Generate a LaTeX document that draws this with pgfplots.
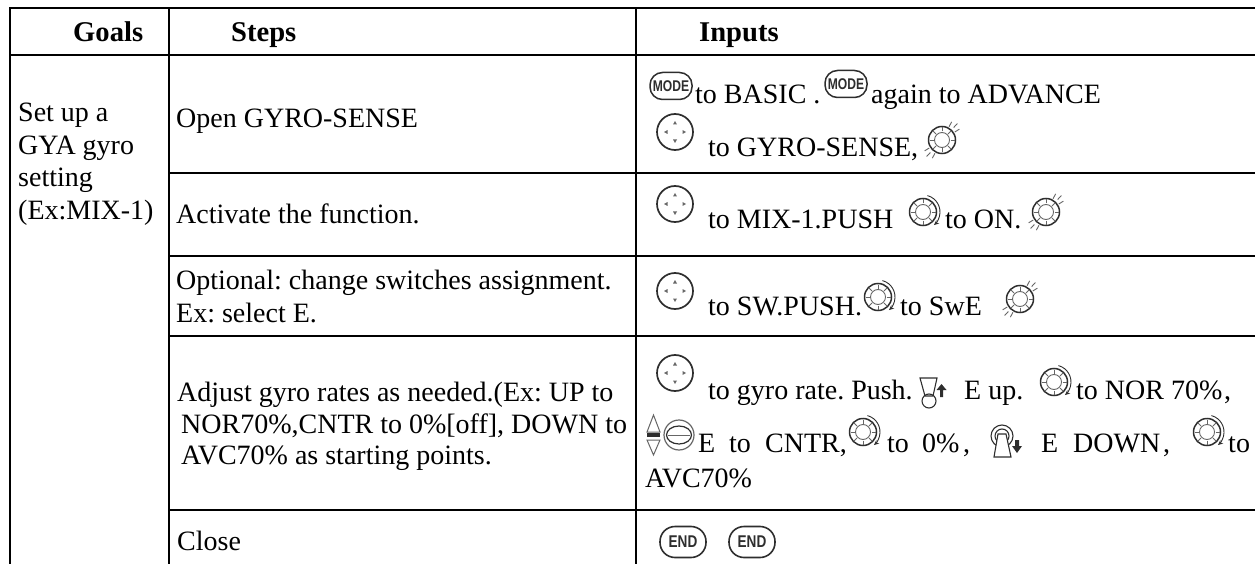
\documentclass[border=0pt]{standalone}
\usepackage{fontspec}
\setmainfont{Liberation Serif}
\newfontfamily\iconfont{Liberation Sans}
\usepackage{pgfplots}
\pgfplotsset{compat=1.18}
\usetikzlibrary{arrows.meta}
\definecolor{ic}{gray}{0.18}
\definecolor{icb}{gray}{0.4}
\tikzset{
 modepic/.pic={
  \draw[ic,line width=1.5pt,rounded corners=12.5pt] (-21pt,-13.5pt) rectangle (21pt,13.5pt);
  \node[ic,inner sep=0pt,xscale=.78] at (0pt,0pt) {\iconfont\bfseries\fontsize{15.5}{15.5}\selectfont MODE};
 },
 endpic/.pic={
  \draw[ic,line width=1.6pt,rounded corners=15pt] (-23pt,-15.5pt) rectangle (23pt,15.5pt);
  \node[ic,inner sep=0pt,xscale=.8] at (0pt,0pt) {\iconfont\bfseries\fontsize{17}{17}\selectfont END};
 },
 padpic/.pic={
  \draw[ic,line width=1.7pt] (0pt,0pt) circle[radius=18pt];
  \fill[icb] (0pt,11pt)--(-2pt,7.5pt)--(2pt,7.5pt)--cycle;
  \fill[icb] (0pt,-11pt)--(-2pt,-7.5pt)--(2pt,-7.5pt)--cycle;
  \fill[icb] (-11pt,0pt)--(-7.5pt,-2pt)--(-7.5pt,2pt)--cycle;
  \fill[icb] (11pt,0pt)--(7.5pt,-2pt)--(7.5pt,2pt)--cycle;
 },
 dialbase/.pic={
  \draw[ic,line width=1.5pt] (0pt,0pt) circle[radius=13.5pt];
  \draw[icb,line width=.9pt] (0pt,0pt) circle[radius=7.5pt];
  \foreach \a in {0,45,...,315}{\draw[icb,line width=.8pt] (\a:8.5pt)--(\a:12.5pt);}
 },
 pushpic/.pic={
  \pic {dialbase};
  \foreach \a/\b in {32/15,47/17,62/15,212/15,227/17,242/15}{\draw[icb,line width=.9pt] (\a:\b pt)--(\a:\b pt+5.5pt);}
 },
 turnpic/.pic={
  \pic {dialbase};
  \draw[ic,line width=.9pt,-{Stealth[length=5pt,width=4.5pt]}] (75:17pt) arc[start angle=75,end angle=-50,radius=17pt];
 },
 swuppic/.pic={
  \draw[ic,line width=1.1pt] (-14pt,15pt)--(3pt,15pt)--(-1pt,-3pt)--(-9pt,-3pt)--cycle;
  \draw[ic,line width=1.1pt] (-5pt,-8pt) circle[radius=7pt];
  \fill[ic] (7.5pt,9pt)--(2.5pt,3pt)--(6pt,3pt)--(6pt,-4pt)--(9pt,-4pt)--(9pt,3pt)--(12.5pt,3pt)--cycle;
 },
 swdownpic/.pic={
  \draw[ic,line width=1.1pt] (-1pt,6pt) circle[radius=11pt];
  \draw[ic,line width=1.1pt] (-1pt,6pt) circle[radius=7pt];
  \draw[ic,line width=1.1pt,fill=white] (-5pt,8pt)--(3pt,8pt)--(8pt,-15pt)--(-9pt,-15pt)--cycle;
  \fill[ic] (14pt,-11pt)--(9pt,-4pt)--(12pt,-4pt)--(12pt,2pt)--(16pt,2pt)--(16pt,-4pt)--(19pt,-4pt)--cycle;
 },
 swmidpic/.pic={
  \draw[icb,line width=1pt] (-32pt,3pt)--(-25.5pt,20pt)--(-19pt,3pt)--cycle;
  \draw[icb,line width=1pt] (-32pt,-5pt)--(-25.5pt,-20pt)--(-19pt,-5pt)--cycle;
  \fill[ic] (-32pt,-2pt) rectangle (-19pt,2pt);
  \draw[icb,line width=1.2pt] (0pt,0pt) circle[radius=15pt];
  \draw[ic,line width=1.2pt] (0pt,0pt) ellipse[x radius=12.5pt,y radius=9pt];
  \draw[icb,line width=.8pt] (-11pt,0pt)--(11pt,0pt);
 }
}
\newcommand\T[3]{\node[anchor=base west,inner sep=0pt,font=\frenchspacing\fontsize{28}{30}\selectfont] at (axis cs:#1,#2) {#3};}
\newcommand\B[3]{\node[anchor=base west,inner sep=0pt,font=\frenchspacing\bfseries\fontsize{28.6}{30}\selectfont] at (axis cs:#1,#2) {#3};}
\begin{document}
\begin{tikzpicture}
\begin{axis}[
  scale only axis, width=1255pt, height=564pt,
  xmin=0, xmax=1255, ymin=0, ymax=564, y dir=reverse,
  axis lines=none, clip=false
]
\path[use as bounding box] (axis cs:0,0) rectangle (axis cs:1255,564);
% rules
\pgfplotsset{rule/.style={black, line width=1.8pt, no markers, line cap=rect, forget plot}}
\addplot[rule] coordinates {(10,8) (1255,8)};
\addplot[rule] coordinates {(10,55) (1255,55)};
\addplot[rule] coordinates {(169,172.7) (1255,172.7)};
\addplot[rule] coordinates {(169,256) (1255,256)};
\addplot[rule] coordinates {(169,336) (1255,336)};
\addplot[rule] coordinates {(169,510) (1255,510)};
\addplot[rule] coordinates {(10,8) (10,564)};
\addplot[rule] coordinates {(169,8) (169,564)};
\addplot[rule] coordinates {(636,8) (636,564)};
% text
\B{73}{42}{Goals}
\B{231}{42}{Steps}
\B{699}{42}{Inputs}
\T{18}{122}{Set up a}
\T{18}{155}{GYA gyro}
\T{18}{187}{setting}
\T{18}{219}{(Ex:MIX-1)}
\T{176}{128}{Open GYRO-SENSE}
\T{176}{223}{Activate the function.}
\T{176}{289}{Optional: change switches assignment.}
\T{176}{322}{Ex: select E.}
\T{177}{401}{Adjust gyro rates as needed.(Ex: UP to}
\T{181}{433}{NOR70\%,CNTR to 0\%[off], DOWN to}
\T{181}{464}{AVC70\% as starting points.}
\T{177}{550}{Close}
% inputs
\T{695}{104}{to BASIC .}
\T{871}{104}{again to ADVANCE}
\T{708}{157}{to GYRO-SENSE,}
\T{708}{228}{to MIX-1.PUSH}
\T{945}{228}{to ON.}
\T{708}{315}{to SW.PUSH.}
\T{900}{315}{to SwE}
\T{708}{399}{to gyro rate. Push.}
\T{964}{399}{E up.}
\T{1076}{399}{to NOR 70\%}
\T{1224}{399}{,}
\T{698}{452}{E}
\T{729}{452}{to}
\T{765}{452}{CNTR,}
\T{887}{452}{to}
\T{922}{452}{0\%}
\T{963}{452}{,}
\T{1041}{452}{E}
\T{1073}{452}{DOWN}
\T{1163}{452}{,}
\T{1228}{452}{to}
\T{645}{487}{AVC70\%}
% icons
\pic at (axis cs:671,86) {modepic};
\pic at (axis cs:846,84) {modepic};
\pic at (axis cs:675,132) {padpic};
\pic at (axis cs:942,140) {pushpic};
\pic at (axis cs:675,204) {padpic};
\pic at (axis cs:923,212) {turnpic};
\pic at (axis cs:1046,212) {pushpic};
\pic at (axis cs:675,291) {padpic};
\pic at (axis cs:878,297) {turnpic};
\pic at (axis cs:1020,299) {pushpic};
\pic at (axis cs:675,373) {padpic};
\pic at (axis cs:934,393) {swuppic};
\pic at (axis cs:1054,382) {turnpic};
\pic at (axis cs:679,435) {swmidpic};
\pic at (axis cs:863,432) {turnpic};
\pic at (axis cs:1003,442) {swdownpic};
\pic at (axis cs:1207,432) {turnpic};
\pic at (axis cs:683,542) {endpic};
\pic at (axis cs:752,542) {endpic};
\end{axis}
\end{tikzpicture}
\end{document}
